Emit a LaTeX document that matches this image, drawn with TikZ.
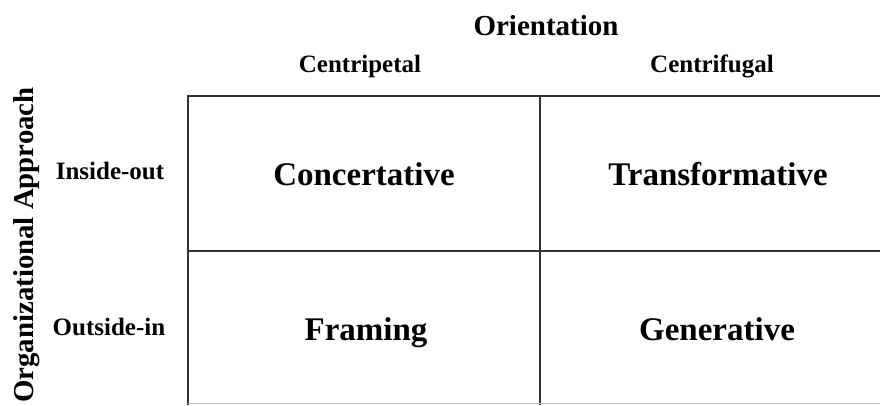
\documentclass[tikz,border=0pt]{standalone}
\usepackage{fontspec}
\setmainfont{Liberation Serif}
\begin{document}
\begin{tikzpicture}[x=1pt,y=-1pt,
  grid/.style={draw=black!80,line width=2pt},
  axistitle/.style={font=\bfseries\fontsize{29}{32}\selectfont,inner sep=0pt,anchor=base},
  axislabel/.style={font=\bfseries\fontsize{25}{28}\selectfont,inner sep=0pt,anchor=base},
  cell/.style={font=\bfseries\fontsize{33}{36}\selectfont,inner sep=0pt,anchor=base}]
\useasboundingbox (0,0) rectangle (880,405);
% matrix frame
\coordinate (tl) at (188,96);
\coordinate (tm) at (540,96);
\coordinate (tr) at (880,96);
\coordinate (ml) at (188,251);
\coordinate (mr) at (880,251);
\coordinate (bl) at (188,405);
\coordinate (bm) at (540,405);
\draw[grid] (bl) -- (tl) -- (tr);
\draw[grid] (ml) -- (mr);
\draw[grid] (tm) -- (bm);
\draw[black!25,line width=0.8pt] (188,403.5) -- (880,403.5);
% column heading
\node[axistitle] (orient) at (546,35) {Orientation};
\node[axislabel] (cp) at (360,72) {Centripetal};
\node[axislabel] (cf) at (712,72) {Centrifugal};
% row heading
\node[axistitle,rotate=90,font=\bfseries\fontsize{28.8}{32}\selectfont] (org) at (33,245) {Organizational Approach};
\node[axislabel] (io) at (110,179) {Inside-out};
\node[axislabel] (oi) at (109,335) {Outside-in};
% quadrants
\node[cell] (conc) at (364,185) {Concertative};
\node[cell] (trans) at (718,185) {Transformative};
\node[cell] (fram) at (366,340) {Framing};
\node[cell] (gen) at (717,340) {Generative};
\end{tikzpicture}
\end{document}
